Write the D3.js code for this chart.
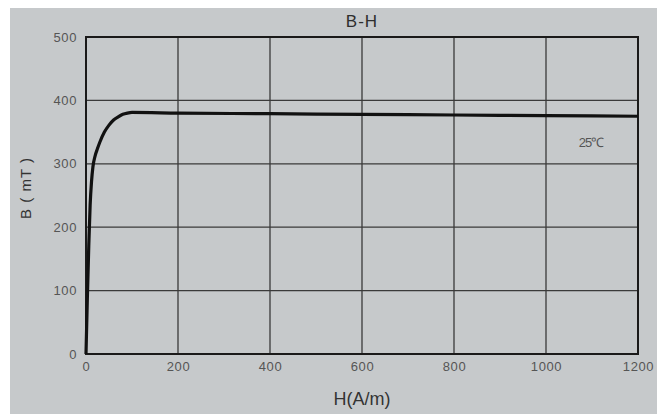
<!DOCTYPE html>
<html><head><meta charset="utf-8">
<script src="https://cdn.jsdelivr.net/npm/d3@7/dist/d3.min.js"></script>
<style>
html,body{margin:0;padding:0;background:#fff;}
svg{display:block;}
</style></head>
<body>
<svg id="c" width="663" height="414"></svg>
<script>
const H = [0, 3, 6, 9, 12, 15, 20, 25, 30, 40, 50, 60, 70, 80, 90, 100, 200, 400, 600, 800, 1000, 1200];
const B = [0, 90, 170, 235, 272, 295, 313, 324, 334, 350, 361, 369, 374, 378, 380, 381, 380, 379, 378, 377, 376, 375];
const xTicks = [0, 200, 400, 600, 800, 1000, 1200];
const yTicks = [0, 100, 200, 300, 400, 500];
const title = "B-H";
const xLabel = "H(A/m)";
const yLabel = "B ( mT )";
const curveLabel = "25℃";

const svg = d3.select("#c");
svg.append("rect").attr("x",10).attr("y",8).attr("width",647).attr("height",406).attr("fill","#c6c9cb");

const m = {l:86, r:638, t:37, b:354};
const x = d3.scaleLinear().domain([0,1200]).range([m.l, m.r]);
const y = d3.scaleLinear().domain([0,500]).range([m.b, m.t]);

const g = svg.append("g");
g.selectAll(".hg").data(yTicks.filter(v=>v>0&&v<500)).enter().append("line")
 .attr("x1",m.l).attr("x2",m.r).attr("y1",d=>y(d)).attr("y2",d=>y(d))
 .attr("stroke","#3a3a3a").attr("stroke-width",1.3);
g.selectAll(".vg").data(xTicks.filter(v=>v>0&&v<1200)).enter().append("line")
 .attr("y1",m.t).attr("y2",m.b).attr("x1",d=>x(d)).attr("x2",d=>x(d))
 .attr("stroke","#3a3a3a").attr("stroke-width",1.3);
g.append("rect").attr("x",m.l).attr("y",m.t).attr("width",m.r-m.l).attr("height",m.b-m.t)
 .attr("fill","none").attr("stroke","#1a1a1a").attr("stroke-width",2);

const ff = "Liberation Sans, Arial, sans-serif";
const xa = d3.axisBottom(x).tickValues(xTicks).tickSize(0).tickPadding(8).tickFormat(d3.format("d"));
const ya = d3.axisLeft(y).tickValues(yTicks).tickSize(0).tickPadding(9).tickFormat(d3.format("d"));
const gx = svg.append("g").attr("transform",`translate(0,${m.b})`).call(xa);
const gy = svg.append("g").attr("transform",`translate(${m.l},0)`).call(ya);
[gx,gy].forEach(a=>{a.select(".domain").remove();
 a.selectAll("text").attr("fill","#555").style("font-family",ff).style("font-size","13px").style("letter-spacing","0.6px");});

const line = d3.line().x((d,i)=>x(H[i])).y((d,i)=>y(B[i])).curve(d3.curveMonotoneX);
svg.append("path").datum(B).attr("d",line).attr("fill","none").attr("stroke","#111").attr("stroke-width",3.2);

svg.append("text").attr("x",362).attr("y",27).attr("text-anchor","middle").attr("fill","#2e2e2e")
 .style("font-family",ff).style("font-size","17px").style("letter-spacing","1px").text(title);
svg.append("text").attr("x",362).attr("y",405).attr("text-anchor","middle").attr("fill","#333")
 .style("font-family",ff).style("font-size","18px").text(xLabel);
svg.append("text").attr("transform","translate(31,188) rotate(-90)").attr("text-anchor","middle").attr("fill","#333")
 .style("font-family",ff).style("font-size","15px").style("letter-spacing","1px").text(yLabel);
svg.append("text").attr("x",591).attr("y",147).attr("text-anchor","middle").attr("fill","#555")
 .style("font-family",ff).style("font-size","13px").style("letter-spacing","-1px").text(curveLabel);
</script>
</body></html>
